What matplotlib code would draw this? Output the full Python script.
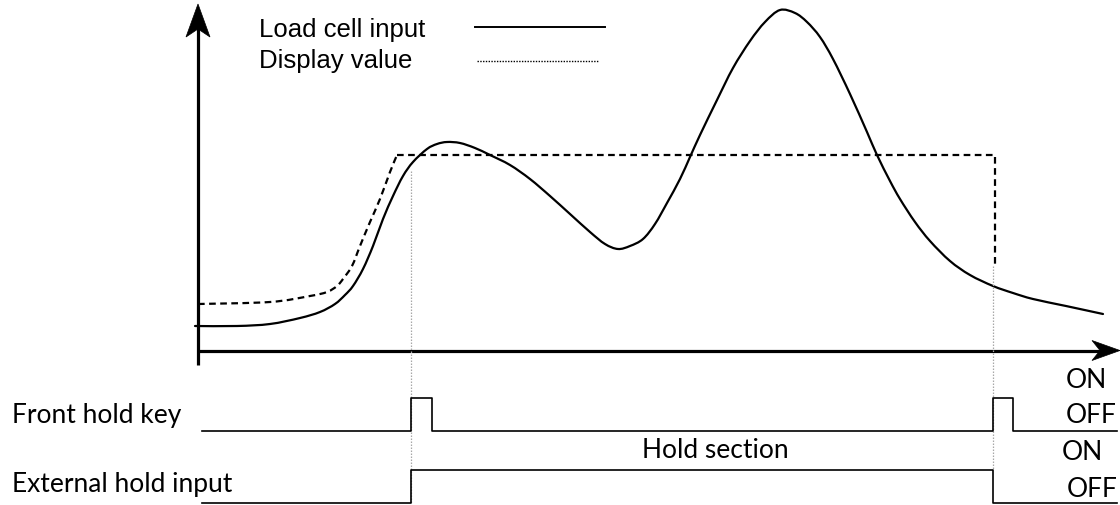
import matplotlib
matplotlib.use("Agg")
import matplotlib.pyplot as plt
from matplotlib.patches import Polygon, PathPatch
from matplotlib.path import Path

# ---- signal data (time position, level; level axis grows downward) ----
load_t = [195, 237, 270, 300, 320, 335, 345, 353, 363, 373, 383, 393, 403, 413,
          427, 437, 447, 460, 475, 490, 510, 530, 550, 570, 590, 605, 618, 630,
          643, 655, 667, 680, 690, 700, 717, 733, 750, 765, 780, 795, 807, 820,
          833, 850, 867, 877, 890, 900, 915, 930, 950, 970, 993, 1013,
          1033, 1066, 1103]
load_v = [327, 327, 325, 319, 313, 305, 296, 287, 270, 247, 220, 197, 177, 163,
          150, 145, 143, 144, 149, 156, 166, 180, 197, 215, 233, 245, 250, 247,
          240, 225, 204, 180, 158, 136, 101, 69, 42, 23, 11, 14, 23, 38,
          60, 95, 133, 156, 182, 200, 223, 242, 262, 276, 287, 294,
          300, 307, 315]

disp_t = [198, 270, 310, 327, 337, 343, 352, 360, 370, 380, 390, 397, 995, 995]
disp_v = [305, 303, 297, 293, 287, 280, 267, 247, 223, 200, 173, 156, 156, 267]

# hold events
hold_start = 411
hold_end = 993
key_pulse = 21

key_t = [202, hold_start, hold_start, hold_start + key_pulse, hold_start + key_pulse,
         hold_end, hold_end, hold_end + key_pulse - 1, hold_end + key_pulse - 1, 1117]
key_state = [0, 0, 1, 1, 0, 0, 1, 1, 0, 0]
ext_t = [202, hold_start, hold_start, hold_end, hold_end, 1117]
ext_state = [0, 0, 1, 1, 0, 0]


def smooth_path(xs, ys):
    """Cubic Bezier path through the given points (Catmull-Rom tangents)."""
    pts = list(zip(xs, ys))
    verts = [pts[0]]
    codes = [Path.MOVETO]
    n = len(pts)
    for i in range(n - 1):
        p0 = pts[i - 1] if i > 0 else pts[i]
        p1 = pts[i]
        p2 = pts[i + 1]
        p3 = pts[i + 2] if i + 2 < n else pts[i + 1]
        c1 = (p1[0] + (p2[0] - p0[0]) / 6, p1[1] + (p2[1] - p0[1]) / 6)
        c2 = (p2[0] - (p3[0] - p1[0]) / 6, p2[1] - (p3[1] - p1[1]) / 6)
        verts += [c1, c2, p2]
        codes += [Path.CURVE4] * 3
    return Path(verts, codes)


# ---- figure ----
fig = plt.figure(figsize=(11.2, 5.06), dpi=100)
ax = fig.add_axes([0, 0, 1, 1])
ax.set_xlim(0, 1120)
ax.set_ylim(506, 0)
ax.axis("off")

INK = "black"
AXIS_Y = 351.5
AXIS_X = 198

# axes with arrowheads
ax.plot([AXIS_X, AXIS_X], [366, 20], color=INK, lw=2.3, solid_capstyle="butt")
ax.plot([AXIS_X, 1100], [AXIS_Y, AXIS_Y], color=INK, lw=2.3, solid_capstyle="butt")
ax.add_patch(Polygon([[AXIS_X, 5], [AXIS_X + 12, 38], [AXIS_X, 30], [AXIS_X - 12, 38]],
                     closed=True, facecolor=INK, edgecolor=INK, lw=0.5))
ax.add_patch(Polygon([[1120, AXIS_Y], [1092, AXIS_Y - 10], [1100, AXIS_Y], [1092, AXIS_Y + 10]],
                     closed=True, facecolor=INK, edgecolor=INK, lw=0.5))

# hold boundary guides
ax.plot([hold_start, hold_start], [172, 504], color="#a8a8a8", lw=0.9, ls=(0, (1.2, 1.2)))
ax.plot([hold_end, hold_end], [267, 471], color="#a8a8a8", lw=0.9, ls=(0, (1.2, 1.2)))

# load cell input (smooth) and display value
ax.add_patch(PathPatch(smooth_path(load_t, load_v), facecolor="none",
                       edgecolor=INK, lw=1.6, capstyle="round", joinstyle="round"))
ax.add_patch(PathPatch(smooth_path(disp_t[:-2], disp_v[:-2]), facecolor="none",
                       edgecolor=INK, lw=1.6, ls=(0, (3.0, 2.0))))
ax.plot(disp_t[-3:], disp_v[-3:], color=INK, lw=1.6, ls=(0, (3.0, 2.0)))

# legend
ax.plot([475, 605], [28, 28], color=INK, lw=1.4)
ax.plot([477, 598], [62, 62], color=INK, lw=1.0, ls=(0, (1.0, 1.0)))
legend_font = dict(family="Liberation Sans", fontsize=18.5, color=INK, va="baseline", ha="left")
ax.text(259, 37, "Load cell input", **legend_font)
ax.text(259, 68, "Display value", **legend_font)

# digital signals
KEY_LOW, KEY_HIGH = 432, 399
EXT_LOW, EXT_HIGH = 504, 471
ax.plot(key_t, [KEY_HIGH if s else KEY_LOW for s in key_state], color=INK, lw=1.2)
ax.plot(ext_t, [EXT_HIGH if s else EXT_LOW for s in ext_state], color=INK, lw=1.2)

label_font = dict(family="Lato", fontsize=19, color=INK, va="baseline", ha="left")
ax.text(12, 423, "Front hold key", **label_font)
ax.text(12, 492, "External hold input", **label_font)
ax.text(642, 458, "Hold section", **label_font)
ax.text(1066, 388, "ON", **label_font)
ax.text(1066, 423, "OFF", **label_font)
ax.text(1062, 460, "ON", **label_font)
ax.text(1067, 497, "OFF", **label_font)

fig.savefig("out.png", dpi=100)
